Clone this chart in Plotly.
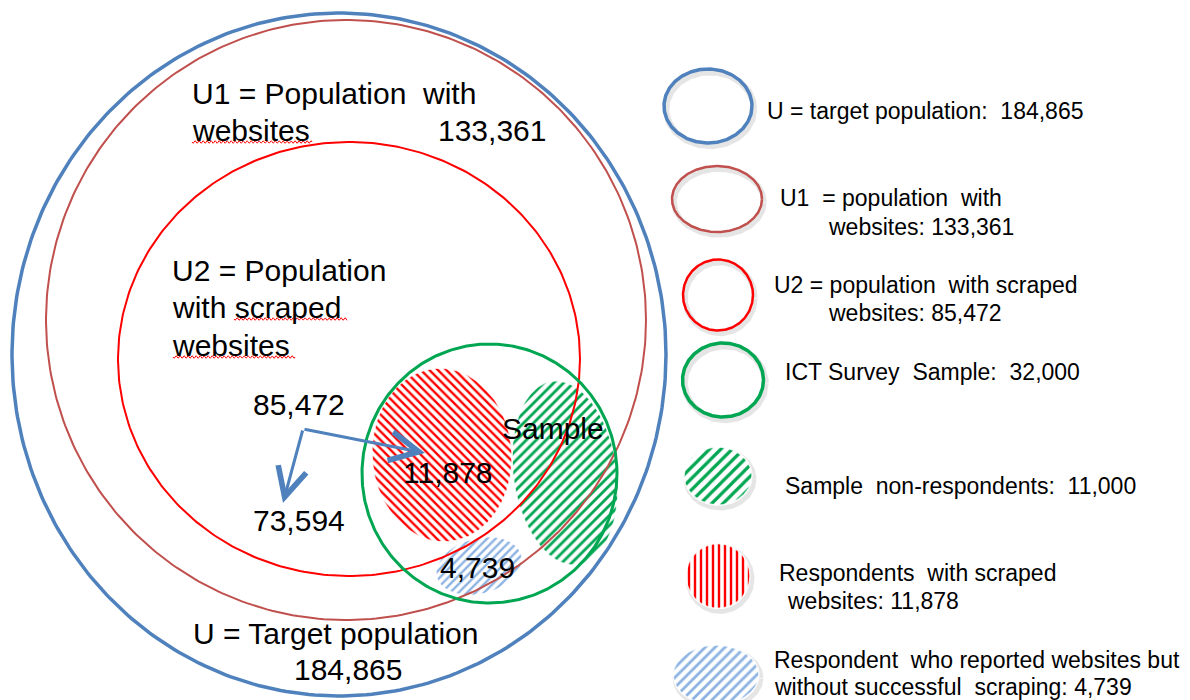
import numpy as np
import plotly.graph_objects as go

# ---------------- data ----------------
population_names = ["U", "U1", "U2", "Sample"]
population_titles = ["Target population", "Population with websites",
                     "Population with scraped websites", "ICT Survey Sample"]
population_counts = [184865, 133361, 85472, 32000]

subgroup_names = ["Sample non-respondents", "Respondents with scraped websites",
                  "Respondent who reported websites but without successful scraping"]
subgroup_counts = [11000, 11878, 4739]

u2_outside_sample = 73594

legend_texts = [
    ["U = target population:\u00a0 {}"],
    ["U1\u00a0 = population\u00a0 with", "websites: {}"],
    ["U2 = population\u00a0 with scraped", "websites: {}"],
    ["ICT Survey\u00a0 Sample:\u00a0 {}"],
]
subgroup_legend_texts = [
    ["Sample\u00a0 non-respondents:\u00a0 {}"],
    ["Respondents\u00a0 with scraped", "websites: {}"],
    ["Respondent\u00a0 who reported websites but", "without successful\u00a0 scraping: {}"],
]


def fmt(v):
    return f"{v:,}"


# ---------------- styling / geometry ----------------
FONT = "Liberation Sans, Arial, sans-serif"
BLUE = "#4f81bd"
BROWN = "#c0504d"
RED = "#ff0000"
GREEN = "#00a651"
LBLUE = "#8db3e2"

# page offset of the default HTML body margin
PAGE_MARGIN = 8

# (cx, cy, rx, ry, tilt_deg) in pixel space
circle_geom = {
    "U": (339, 354.5, 327, 341.5, 0),
    "U1": (346, 320, 300, 300, 0),
    "U2": (349, 359, 231, 217, 0),
    "Sample": (489.5, 473.5, 127.5, 129.5, 0),
}
circle_style = {"U": (BLUE, 3.5), "U1": (BROWN, 2), "U2": (RED, 2), "Sample": (GREEN, 3)}

hatch_geom = [
    (565, 473, 52, 93, -8),    # non-respondents
    (442, 455, 70, 87, -4),    # respondents with scraped websites
    (479, 566, 44, 28, -15),   # reported but not scraped
]
hatch_style = [("/", GREEN, 7), ("\\", RED, 6), ("/", LBLUE, 6)]

legend_geom = [(708, 106, 44, 37), (717, 199, 45, 33), (718, 295, 35, 35.5), (723, 380, 40.5, 37)]
legend_line_w = [3.5, 2.5, 2.5, 3.5]
legend_colors = [BLUE, BROWN, RED, GREEN]
legend_text_pos = [[(765, 111)], [(778, 198), (826, 227)], [(772, 285), (826, 313)], [(783, 372)]]

sub_legend_geom = [(718, 476, 34, 29), (718, 576, 32, 32.5), (716, 675, 43, 30)]
sub_legend_style = [("/", GREEN, 8), ("|", RED, 6), ("/", LBLUE, 7)]
sub_legend_text_pos = [[(783, 486)], [(777, 573), (785, 601)], [(772, 660), (772, 687)]]


def ellipse(cx, cy, rx, ry, tilt=0, n=360):
    t = np.linspace(0, 2 * np.pi, n)
    a = np.deg2rad(tilt)
    x = cx + rx * np.cos(t) * np.cos(a) - ry * np.sin(t) * np.sin(a)
    y = cy + rx * np.cos(t) * np.sin(a) + ry * np.sin(t) * np.cos(a)
    return x, y


def wavy(x0, x1, y, amp=1.3, period=4.0):
    x = np.linspace(x0, x1, int((x1 - x0) * 2))
    return x, y + amp * np.sin(2 * np.pi * (x - x0) / period)


fig = go.Figure()


def add_hatch(geom, style, tilt=0):
    cx, cy, rx, ry = geom[:4]
    x, y = ellipse(cx, cy, rx, ry, tilt)
    shape, color, size = style
    fig.add_trace(go.Scatter(
        x=x, y=y, mode="lines", fill="toself", line=dict(width=0, color=color),
        fillcolor="white",
        fillpattern=dict(shape=shape, fgcolor=color, bgcolor="white", size=size,
                         solidity=0.4, fillmode="replace"),
        hoverinfo="skip"))
    # soft edge
    fig.add_trace(go.Scatter(x=x, y=y, mode="lines",
                             line=dict(color="rgba(255,255,255,0.8)", width=1.5),
                             hoverinfo="skip"))


def add_outline(geom, color, width, shadow=True, tilt=0):
    cx, cy, rx, ry = geom[:4]
    if shadow:
        x, y = ellipse(cx + 2, cy + 3, rx, ry, tilt)
        fig.add_trace(go.Scatter(x=x, y=y, mode="lines",
                                 line=dict(color="rgba(0,0,0,0.10)", width=width + 3),
                                 hoverinfo="skip"))
    x, y = ellipse(cx, cy, rx, ry, tilt)
    fig.add_trace(go.Scatter(x=x, y=y, mode="lines", line=dict(color=color, width=width),
                             hoverinfo="skip"))


# hatched subgroups in the diagram (below the outlines)
for g, s in zip(hatch_geom, hatch_style):
    add_hatch(g, s, g[4])

# population circles
for name in population_names:
    cx, cy, rx, ry, tilt = circle_geom[name]
    color, w = circle_style[name]
    add_outline((cx, cy, rx, ry), color, w, shadow=False)

# legend symbols
for g, c, w in zip(legend_geom, legend_colors, legend_line_w):
    add_outline(g, c, w, shadow=True)
for g, s in zip(sub_legend_geom, sub_legend_style):
    cx, cy, rx, ry = g
    xs, ys = ellipse(cx + 2, cy + 3, rx, ry)
    fig.add_trace(go.Scatter(x=xs, y=ys, mode="lines",
                             line=dict(color="rgba(0,0,0,0.10)", width=5), hoverinfo="skip"))
    add_hatch(g, s)

# spell-check squiggles
for x0, x1, yy in [(192, 312, 142), (234, 347, 319), (173, 295, 357)]:
    wx, wy = wavy(x0, x1, yy)
    fig.add_trace(go.Scatter(x=wx, y=wy, mode="lines", line=dict(color=RED, width=1),
                             hoverinfo="skip"))

annotations = []


def txt(x, y, s, size=30, anchor="left"):
    annotations.append(dict(x=x, y=y, xref="x", yref="y", text=s, showarrow=False,
                            xanchor=anchor, yanchor="middle",
                            font=dict(family=FONT, size=size, color="black")))


# diagram labels
txt(190, 93, f"{population_names[1]} = Population\u00a0 with")
txt(190, 130, "websites")
txt(436, 130, fmt(population_counts[1]))
txt(170, 270, f"{population_names[2]} = Population")
txt(170, 307, "with scraped")
txt(170, 345, "websites")
txt(251, 404, fmt(population_counts[2]))
txt(251, 520, fmt(u2_outside_sample))
txt(401, 472, fmt(subgroup_counts[1]))
txt(500, 428, population_names[3])
txt(438, 567, fmt(subgroup_counts[2]))
txt(191, 633, f"{population_names[0]} = Target population")
txt(292, 669, fmt(population_counts[0]))

# legend labels
for lines, poss, cnt in zip(legend_texts, legend_text_pos, population_counts):
    for line, (px, py) in zip(lines, poss):
        s = line.format(fmt(cnt)) if "{}" in line else line
        txt(px, py, s, size=23)
for lines, poss, cnt in zip(subgroup_legend_texts, sub_legend_text_pos, subgroup_counts):
    for line, (px, py) in zip(lines, poss):
        s = line.format(fmt(cnt)) if "{}" in line else line
        txt(px, py, s, size=23)

# arrows from 85,472 splitting into 11,878 and 73,594
for tip in [(425, 453), (283, 503)]:
    annotations.append(dict(x=tip[0], y=tip[1], ax=303, ay=429, xref="x", yref="y",
                            axref="x", ayref="y", text="", showarrow=True,
                            arrowhead=5, arrowsize=1.9, arrowwidth=3, arrowcolor=BLUE,
                            standoff=0, startstandoff=0))

fig.update_layout(
    width=1190 - PAGE_MARGIN, height=700 - PAGE_MARGIN,
    margin=dict(l=0, r=0, t=0, b=0),
    paper_bgcolor="white", plot_bgcolor="white",
    showlegend=False,
    xaxis=dict(range=[PAGE_MARGIN, 1190], visible=False, fixedrange=True),
    yaxis=dict(range=[700, PAGE_MARGIN], visible=False, fixedrange=True),
    annotations=annotations,
)

fig.write_html("out.html")
